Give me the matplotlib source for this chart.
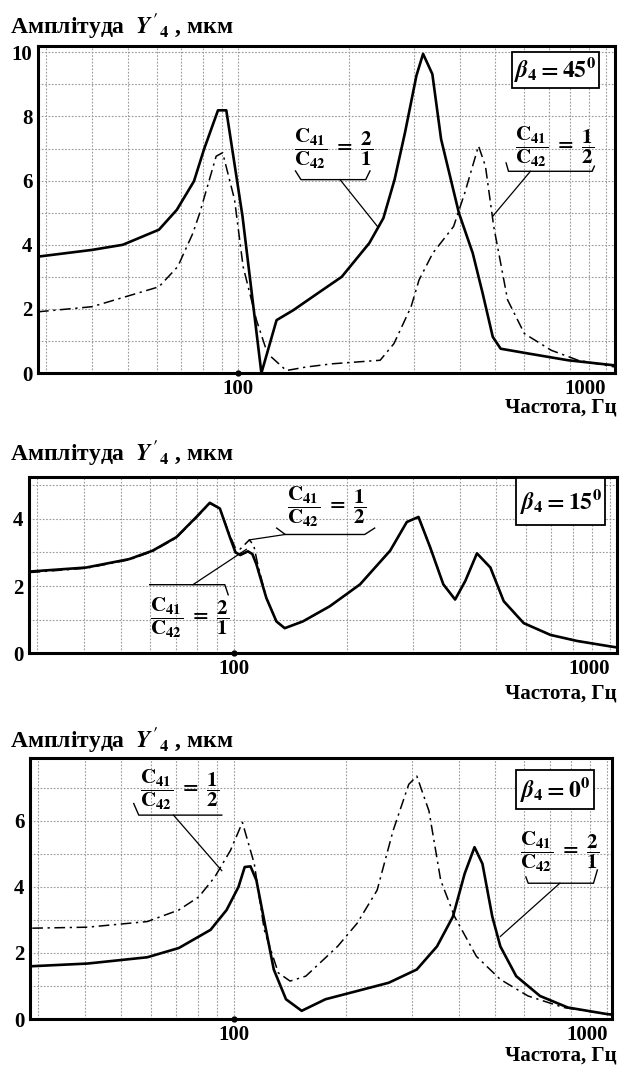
import numpy as np
import matplotlib
matplotlib.use('Agg')
import matplotlib.pyplot as plt
from matplotlib.patches import Rectangle
from matplotlib.ticker import FixedLocator, NullFormatter

plt.rcParams['font.family'] = ['Liberation Serif', 'DejaVu Serif']
plt.rcParams['font.weight'] = 'bold'
plt.rcParams['mathtext.fontset'] = 'stix'
plt.rcParams['mathtext.default'] = 'bf'

# ---------------- data ----------------
# beta = 45 deg
f45_s = [28.5, 40, 48.5, 60.8, 68, 75.7, 80.6, 88, 92.7, 102.6, 115.5, 127, 141, 164, 191, 227, 248, 266, 284, 305, 318, 337, 356, 398, 434, 462, 492, 517, 615, 789, 1058]
y45_s = [3.63, 3.84, 4.0, 4.47, 5.09, 5.98, 6.97, 8.19, 8.19, 4.89, 0.0, 1.65, 1.96, 2.48, 3.0, 4.05, 4.83, 6.03, 7.5, 9.27, 9.95, 9.32, 7.29, 4.99, 3.74, 2.48, 1.13, 0.76, 0.61, 0.4, 0.24]
f45_d = [28.5, 40, 60.8, 68.4, 75.2, 78.5, 87, 90.6, 97.6, 103, 112, 120, 135, 153, 180, 243, 265, 295, 310, 338, 385, 413, 450, 470, 495, 540, 600, 710, 840, 1058]
y45_d = [1.91, 2.07, 2.69, 3.32, 4.36, 4.99, 6.76, 6.87, 5.41, 3.32, 1.65, 0.61, 0.08, 0.19, 0.29, 0.4, 0.92, 2.07, 2.9, 3.74, 4.57, 5.62, 7.08, 6.45, 4.57, 2.28, 1.23, 0.71, 0.4, 0.19]

# beta = 15 deg
f15_s = [28.6, 40.5, 52.7, 60.8, 70.3, 79.5, 86.3, 91.8, 97.6, 101, 104, 109, 112, 114.8, 122, 129.8, 136.6, 152.6, 180, 216.7, 260.6, 288.6, 310, 333, 361, 388, 413, 443.6, 481.6, 522.7, 590.7, 696, 820, 1016, 1045]
y15_s = [2.43, 2.55, 2.8, 3.05, 3.45, 4.05, 4.47, 4.3, 3.45, 3.0, 2.92, 3.03, 2.95, 2.65, 1.65, 0.95, 0.75, 0.95, 1.4, 2.05, 3.05, 3.9, 4.05, 3.15, 2.05, 1.6, 2.15, 2.97, 2.55, 1.55, 0.9, 0.55, 0.37, 0.2, 0.18]
f15_d = [28.6, 40.5, 52.7, 60.8, 70.3, 79.5, 86.3, 91.8, 97.6, 101, 104, 110, 113, 116, 122, 129.8, 136.6, 152.6, 180, 216.7, 260.6, 288.6, 310, 333, 361, 388, 413, 443.6, 481.6, 522.7, 590.7, 696, 820, 1016, 1045]
y15_d = [2.4, 2.53, 2.78, 3.03, 3.43, 4.03, 4.45, 4.3, 3.5, 3.12, 3.1, 3.37, 3.2, 2.6, 1.65, 0.95, 0.75, 0.95, 1.4, 2.05, 3.05, 3.9, 4.05, 3.15, 2.05, 1.6, 2.15, 2.97, 2.55, 1.55, 0.9, 0.55, 0.37, 0.2, 0.18]

# beta = 0 deg
f0_s = [28.9, 40.6, 58.7, 71.3, 86.7, 95.7, 103, 107, 110.9, 115, 122, 128, 138, 152, 176, 214, 260, 309, 350, 386, 415, 441, 463, 492, 517, 570, 660, 784, 1000, 1045]
y0_s = [1.6, 1.68, 1.87, 2.15, 2.7, 3.3, 4.0, 4.6, 4.62, 4.2, 2.7, 1.5, 0.6, 0.25, 0.6, 0.85, 1.1, 1.5, 2.2, 3.1, 4.4, 5.2, 4.7, 3.1, 2.2, 1.3, 0.7, 0.35, 0.15, 0.13]
f0_d = [28.9, 40.6, 58.7, 71.3, 80.7, 89, 98, 105.5, 113.5, 120.7, 131.6, 141.5, 156, 189.7, 214, 242, 267, 294, 309, 333, 358, 390, 446, 517, 613, 764, 1000, 1045]
y0_d = [2.75, 2.78, 2.95, 3.3, 3.7, 4.3, 5.1, 5.95, 4.7, 2.7, 1.4, 1.15, 1.3, 2.2, 2.9, 3.9, 5.7, 7.1, 7.35, 6.3, 4.2, 3.1, 1.9, 1.2, 0.7, 0.35, 0.15, 0.13]

x_ticks = [100, 1000]
x_ticklabels = ['100', '1000']
x_minor = [30, 40, 50, 60, 70, 80, 90, 200, 300, 400, 500, 600, 700, 800, 900]

title = "Амплітуда  $\\mathit{Y}'_4$ , мкм"
xlabel = "Частота, Гц"
frac21 = r'$\dfrac{C_{41}}{C_{42}}\ =\ \dfrac{2}{1}$'
frac12 = r'$\dfrac{C_{41}}{C_{42}}\ =\ \dfrac{1}{2}$'

fig = plt.figure(figsize=(6.2, 10.66), dpi=100)

def make_panel(rect, fs, ys, fd, yd, ymax, yticks, xlim_right):
    ax = fig.add_axes(rect)
    ax.set_xscale('log')
    ax.set_xlim(28.5, xlim_right)
    ax.set_ylim(0, ymax)
    ax.plot(fd, yd, color='black', lw=1.1, dashes=(7, 3, 1.5, 3), zorder=3)
    ax.plot(fs, ys, color='black', lw=1.9, zorder=4)
    ax.xaxis.set_major_locator(FixedLocator(x_ticks))
    ax.set_xticklabels(x_ticklabels)
    ax.xaxis.set_minor_locator(FixedLocator(x_minor))
    ax.xaxis.set_minor_formatter(NullFormatter())
    ax.yaxis.set_major_locator(FixedLocator(yticks))
    ax.yaxis.set_minor_locator(FixedLocator([v for v in range(1, int(ymax) + 1) if v not in yticks]))
    ax.grid(which='both', ls=(0, (1.5, 1.5)), color='#999999', lw=0.8)
    ax.tick_params(which='both', length=0, labelsize=15, pad=4)
    for lab in ax.get_xticklabels() + ax.get_yticklabels():
        lab.set_fontweight('bold')
    ax.get_xticklabels()[1].set_horizontalalignment('right')
    ax.plot([100], [0], 'o', color='black', ms=3.5, clip_on=False, zorder=8)
    for s in ax.spines.values():
        s.set_linewidth(2.2)
    return ax

def annot(ax, text, xc, yc, line_x, line_y, leader, size=15):
    ax.text(xc, yc, text, ha='center', va='center', fontsize=size, zorder=6)
    ax.plot(line_x, line_y, color='black', lw=1.0, zorder=5)
    ax.plot(leader[0], leader[1], color='black', lw=0.9, zorder=5)

def beta_box(ax, text, x0, x1, y0, y1, size=17):
    ax.add_patch(Rectangle((x0, y0), x1 - x0, y1 - y0, fill=True, facecolor='white',
                           edgecolor='black', lw=1.3, zorder=6))
    xc = np.sqrt(x0 * x1)
    ax.text(xc, (y0 + y1) / 2, text, ha='center', va='center', fontsize=size, zorder=7)

# ---- top panel ----
ax1 = make_panel([0.0613, 0.650, 0.9306, 0.307], f45_s, y45_s, f45_d, y45_d, 10.2, [0, 2, 4, 6, 8, 10], 1058)
annot(ax1, frac21, 182, 7.0, [143, 148, 222, 228], [6.3, 6.03, 6.03, 6.3], ([189, 239], [6.03, 4.57]))
annot(ax1, frac12, 725, 7.05, [535, 543, 917, 930], [6.55, 6.29, 6.29, 6.45], ([623, 492], [6.29, 4.89]))
beta_box(ax1, r'$\mathit{\beta_4} = 45^0$', 554, 959, 8.9, 10.0)

# ---- middle panel ----
ax2 = make_panel([0.0468, 0.387, 0.948, 0.166], f15_s, y15_s, f15_d, y15_d, 5.25, [0, 2, 4], 1045)
annot(ax2, frac12, 176.6, 4.34, [130, 137, 223, 237], [3.72, 3.53, 3.53, 3.72], ([137, 110], [3.53, 3.37]))
annot(ax2, frac21, 76, 1.05, [59.7, 94.6, 96.6], [2.04, 2.04, 1.74], ([77.8, 108], [2.04, 3.09]))
beta_box(ax2, r'$\mathit{\beta_4} = 15^0$', 563, 975, 3.82, 5.2)

# ---- bottom panel ----
ax3 = make_panel([0.0484, 0.044, 0.939, 0.245], f0_s, y0_s, f0_d, y0_d, 7.9, [0, 2, 4, 6], 1030)
annot(ax3, frac12, 71.6, 6.94, [54, 55.7, 92.9], [6.52, 6.17, 6.17], ([69, 92.9], [6.17, 4.49]))
annot(ax3, frac21, 746, 5.07, [605, 614, 918, 940], [4.3, 4.11, 4.11, 4.51], ([746, 517], [4.11, 2.5]))
beta_box(ax3, r'$\mathit{\beta_4} = 0^0$', 570, 918, 6.37, 7.52)

# titles and x-labels
for ypx in (26, 453, 740):
    fig.text(10 / 620, 1 - ypx / 1066, title, ha='left', va='center', fontsize=17, fontweight='bold')
for ypx in (408, 694, 1055):
    fig.text(617 / 620, 1 - ypx / 1066, xlabel, ha='right', va='center', fontsize=15, fontweight='bold')

fig.savefig('out.png', dpi=100)
